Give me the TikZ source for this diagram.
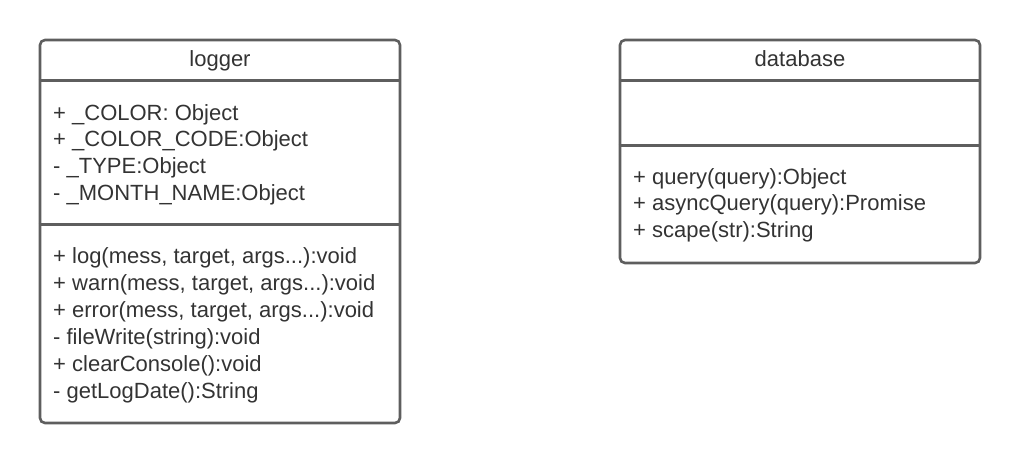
\documentclass[tikz,border=0pt]{standalone}
\usepackage{fontspec}
\setmainfont{Liberation Sans}
\usetikzlibrary{positioning}
\definecolor{boxline}{HTML}{5E5E5E}
\definecolor{textgray}{HTML}{333333}
\newcommand{\restargs}{args...}

\tikzset{
  classbox/.style={draw=boxline, line width=2.6pt, rounded corners=5pt, inner sep=0pt},
  divider/.style={draw=boxline, line width=2.6pt},
  member/.style={anchor=base west, inner sep=0pt, text=textgray, font=\fontsize{22}{26}\selectfont},
  classname/.style={anchor=base, inner sep=0pt, text=textgray, font=\fontsize{22}{26}\selectfont}
}

\begin{document}
\begin{tikzpicture}[x=1pt, y=-1pt]
    \useasboundingbox (0,0) rectangle (1020,464);
    % logger class
    \node [classbox, minimum width=360pt, minimum height=383pt] (logger) at (220, 231.5) {};
    \draw [divider] ([yshift=-42pt]logger.north west) -- ([yshift=-42pt]logger.north east);
    \draw [divider] ([yshift=-186pt]logger.north west) -- ([yshift=-186pt]logger.north east);
    \node [classname] (logger-name) at (220, 66) {logger};
    \foreach \txt [count=\i] in {{+ \_COLOR: Object}, {+ \_COLOR\_CODE:Object},
        {- \_TYPE:Object}, {- \_MONTH\_NAME:Object}}
        \node [member] (logger-attr\i) at (53, 120 + 26.7*\i - 26.7) {\txt};
    \foreach \txt [count=\i] in {{+ log(mess, target, \restargs):void},
        {+ warn(mess, target, \restargs):void}, {+ error(mess, target, \restargs):void},
        {- fileWrite(string):void}, {+ clearConsole():void}, {- getLogDate():String}}
        \node [member] (logger-op\i) at (53, 263 + 27*\i - 27) {\txt};
    % database class
    \node [classbox, minimum width=360pt, minimum height=223pt] (database) at (800, 151.5) {};
    \draw [divider] ([yshift=-42pt]database.north west) -- ([yshift=-42pt]database.north east);
    \draw [divider] ([yshift=-107pt]database.north west) -- ([yshift=-107pt]database.north east);
    \node [classname] (database-name) at (800, 66) {database};
    \foreach \txt [count=\i] in {{+ query(query):Object}, {+ asyncQuery(query):Promise},
        {+ scape(str):String}}
        \node [member] (database-op\i) at (633, 184 + 26.7*\i - 26.7) {\txt};
\end{tikzpicture}
\end{document}
